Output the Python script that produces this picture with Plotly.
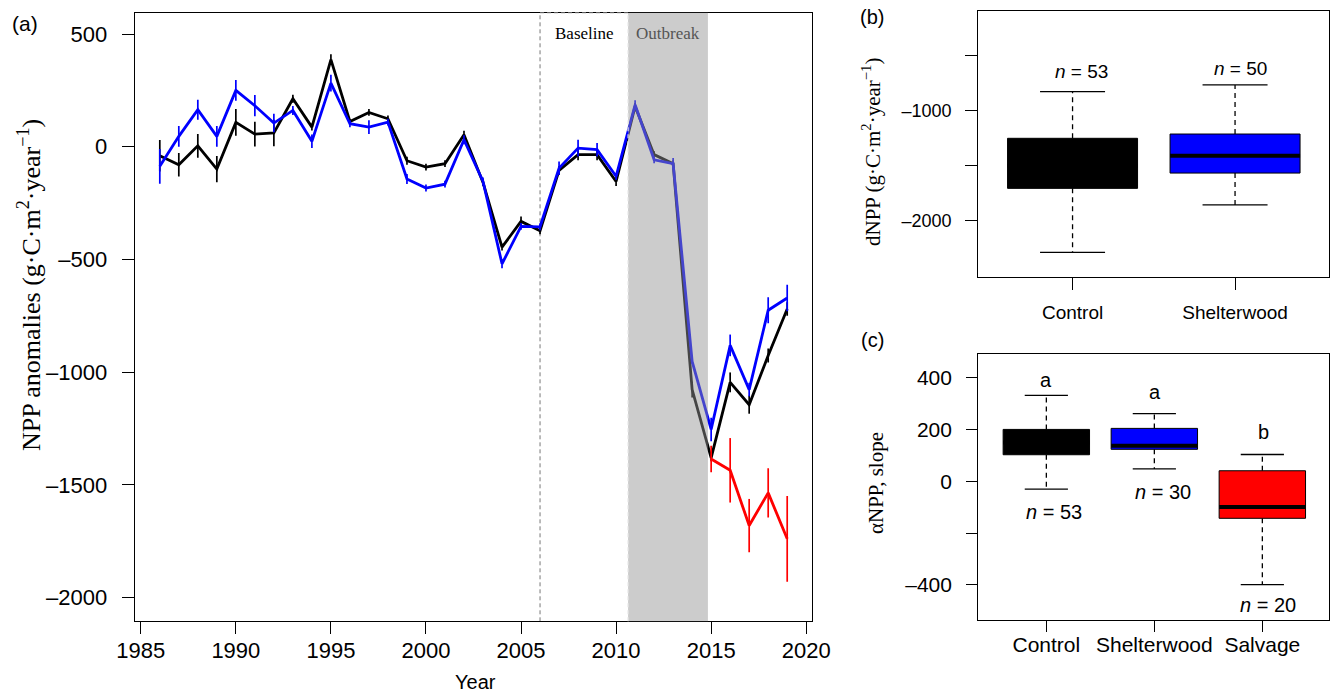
import plotly.graph_objects as go

W, H = 1333, 692

# ---------------- data ----------------
years = list(range(1986, 2020))
control_npp = [-40, -80, 4, -99, 108, 56, 61, 213, 87, 386, 112, 152, 124, -62, -90, -75, 53,
               -158, -445, -331, -373, -105, -35, -35, -154, 179, -35, -75, -1077, -1380,
               -1045, -1144, -926, -720]
control_err = [70, 52, 53, 58, 59, 55, 59, 18, 15, 24, 10, 15, 15, 18, 15, 15, 18,
               15, 15, 22, 15, 20, 25, 25, 20, 15, 15, 15, 35, 15, 44, 40, 31, 30]
shelter_npp = [-87, 46, 164, 46, 250, 182, 105, 161, 24, 282, 102, 87, 109, -143, -183, -166, 31,
               -154, -519, -353, -355, -95, -6, -13, -131, 186, -58, -75, -952, -1254,
               -881, -1077, -725, -671]
shelter_err = [77, 46, 44, 46, 46, 47, 41, 20, 30, 37, 15, 30, 15, 22, 15, 15, 20,
               18, 20, 15, 15, 30, 37, 30, 15, 20, 15, 25, 12, 52, 48, 30, 58, 59]
salvage_years = [2015, 2016, 2017, 2018, 2019]
salvage_npp = [-1385, -1435, -1680, -1535, -1739]
salvage_err = [59, 143, 118, 109, 190]

baseline_start, outbreak_start, outbreak_end = 2006, 2010.63, 2014.83

# panel (b): dNPP boxplot stats  [lower, q1, median, q3, upper]
b_groups = ["Control", "Shelterwood"]
b_stats = [[-2288, -1706, -1500, -1251, -827],
           [-1857, -1567, -1409, -1212, -766]]
b_n = [53, 50]

# panel (c): alpha NPP slope boxplot stats
c_groups = ["Control", "Shelterwood", "Salvage"]
c_stats = [[-30, 103, 150, 201, 333],
           [48, 124, 138, 205, 262],
           [-400, -143, -99, 41, 104]]
c_n = [53, 30, 20]
c_letters = ["a", "a", "b"]

a_yticks = [-2000, -1500, -1000, -500, 0, 500]
a_xticks = [1985, 1990, 1995, 2000, 2005, 2010, 2015, 2020]
b_yticks = [-2000, -1000]
b_yminor = [-1500, -500]
c_yticks = [-400, 0, 200, 400]
c_yminor = [-200]

colors = ["#000000", "#0000ff", "#ff0000"]

SANS = "Liberation Sans, Arial, sans-serif"
SERIF = "Liberation Serif, Times New Roman, serif"
MINUS = "\u2013"


def px(x, y):
    return x / W, 1 - y / H


def fmt(v):
    return str(v).replace("-", MINUS)


fig = go.Figure()

# ---------------- panel (a) ----------------
for yv, ev, xs, col in [(control_npp, control_err, years, colors[0]),
                        (shelter_npp, shelter_err, years, colors[1]),
                        (salvage_npp, salvage_err, salvage_years, colors[2])]:
    fig.add_trace(go.Scatter(
        x=xs, y=yv, mode="lines",
        line=dict(color=col, width=2.8),
        error_y=dict(type="data", array=ev, visible=True, color=col, thickness=1.7, width=0),
        xaxis="x", yaxis="y", showlegend=False))


# ---------------- box helper ----------------
def add_boxes(stats, fills, xa, ya, hw=0.4, cw=0.2):
    for i, (st, fc) in enumerate(zip(stats, fills)):
        pos = i + 1
        lo, q1, med, q3, hi = st
        fig.add_trace(go.Scatter(x=[pos, pos, None, pos, pos], y=[q3, hi, None, q1, lo],
                                 mode="lines", line=dict(color="black", width=1.3, dash="5px,4px"),
                                 xaxis=xa, yaxis=ya, showlegend=False, hoverinfo="skip"))
        fig.add_trace(go.Scatter(x=[pos - cw, pos + cw, None, pos - cw, pos + cw],
                                 y=[hi, hi, None, lo, lo],
                                 mode="lines", line=dict(color="black", width=1.3),
                                 xaxis=xa, yaxis=ya, showlegend=False, hoverinfo="skip"))
        fig.add_trace(go.Scatter(x=[pos - hw, pos + hw, pos + hw, pos - hw, pos - hw],
                                 y=[q1, q1, q3, q3, q1], mode="lines", fill="toself",
                                 fillcolor=fc, line=dict(color="black", width=1),
                                 xaxis=xa, yaxis=ya, showlegend=False, hoverinfo="skip"))
        fig.add_trace(go.Scatter(x=[pos - hw, pos + hw], y=[med, med], mode="lines",
                                 line=dict(color="black", width=4),
                                 xaxis=xa, yaxis=ya, showlegend=False, hoverinfo="skip"))


add_boxes(b_stats, colors[:2], "x2", "y2")
add_boxes(c_stats, colors, "x3", "y3")

# ---------------- axes ----------------
axcommon = dict(showline=True, mirror=True, linecolor="black", linewidth=1.3,
                showgrid=False, zeroline=False, ticks="outside", tickcolor="black",
                tickwidth=1.3, automargin=False)

xa0, ya1 = px(134.7, 621.3)
xa1, ya0 = px(812.3, 12.7)
xb0, yb0 = px(978.3, 276.7)
xb1, yb1 = px(1329.3, 10.7)
yc0 = px(0, 620)[1]
yc1 = px(0, 354.3)[1]

fig.update_layout(
    xaxis=dict(domain=[xa0, xa1], range=[1984.68, 2020.32], tickvals=a_xticks,
               ticklen=12, tickfont=dict(family=SANS, size=22, color="black"),
               ticklabelstandoff=-3, anchor="y", **axcommon),
    yaxis=dict(domain=[ya1, ya0], range=[-2104.7, 594.5], tickvals=a_yticks,
               ticktext=[fmt(v) for v in a_yticks],
               ticklen=12, tickfont=dict(family=SANS, size=22, color="black"),
               ticklabelstandoff=10, anchor="x", **axcommon),
    xaxis2=dict(domain=[xb0, xb1], range=[0.42, 2.58], tickvals=[1, 2], ticktext=b_groups,
                ticklen=12, tickfont=dict(family=SANS, size=19, color="black"),
                ticklabelstandoff=6, anchor="y2", **axcommon),
    yaxis2=dict(domain=[yb0, yb1], range=[-2509, -91], tickvals=b_yticks,
                ticktext=[fmt(v) for v in b_yticks],
                minor=dict(tickvals=b_yminor, ticks="outside", ticklen=12, tickwidth=1.3,
                           tickcolor="black", showgrid=False),
                ticklen=12, tickfont=dict(family=SANS, size=18, color="black"),
                ticklabelstandoff=10, anchor="x2", **axcommon),
    xaxis3=dict(domain=[xb0, xb1], range=[0.37, 3.62], tickvals=[1, 2, 3], ticktext=c_groups,
                ticklen=11, tickfont=dict(family=SANS, size=21, color="black"),
                ticklabelstandoff=-5, anchor="y3", **axcommon),
    yaxis3=dict(domain=[yc0, yc1], range=[-536.6, 491.7], tickvals=c_yticks,
                ticktext=[fmt(v) for v in c_yticks],
                minor=dict(tickvals=c_yminor, ticks="outside", ticklen=11, tickwidth=1.3,
                           tickcolor="black", showgrid=False),
                ticklen=11, tickfont=dict(family=SANS, size=21, color="black"),
                ticklabelstandoff=10, anchor="x3", **axcommon),
)

# ---------------- shapes for (a) ----------------
shapes = [
    dict(type="line", xref="x", yref="y domain", x0=baseline_start, x1=baseline_start, y0=0, y1=1,
         line=dict(color="#555555", width=0.8, dash="4px,3px"), layer="below"),
    dict(type="line", xref="x", yref="y domain", x0=baseline_start, x1=outbreak_start, y0=1, y1=1,
         line=dict(color="#777777", width=1, dash="4px,3px"), layer="above"),
    dict(type="rect", xref="x", yref="y domain", x0=outbreak_start, x1=outbreak_end, y0=0, y1=1,
         fillcolor="rgba(146,146,146,0.47)", line=dict(width=0), layer="above"),
    dict(type="line", xref="x", yref="y domain", x0=outbreak_start, x1=outbreak_start, y0=0, y1=1,
         line=dict(color="#e4e4e4", width=1.2, dash="4px,3px"), layer="above"),
]
fig.update_layout(shapes=shapes)

# ---------------- annotations ----------------
ann = []


def add_text(text, x, y, size, family=SANS, color="black", angle=0, **kw):
    fx, fy = px(x, y)
    ann.append(dict(text=text, x=fx, y=fy, xref="paper", yref="paper", showarrow=False,
                    font=dict(family=family, size=size, color=color), textangle=angle,
                    xanchor="center", yanchor="middle", **kw))


add_text("(a)", 25, 24, 21)
add_text("(b)", 872, 17, 20)
add_text("(c)", 872, 340, 20)
add_text("NPP anomalies (g\u00b7C\u00b7m<sup>2</sup>\u00b7year<sup>\u22121</sup>)", 30, 285, 26,
         family=SERIF, angle=-90)
add_text("Year", 475, 682, 20)
add_text("dNPP (g\u00b7C\u00b7m<sup>2</sup>\u00b7year<sup>\u22121</sup>)", 871, 152, 21,
         family=SERIF, angle=-90)
add_text("\u03b1NPP, slope", 876, 483, 21, family=SERIF, angle=-90)

ann.append(dict(text="Baseline", x=(baseline_start + outbreak_start) / 2, y=px(0, 33)[1],
                xref="x", yref="paper", showarrow=False,
                font=dict(family=SERIF, size=17, color="black"), xanchor="center", yanchor="middle"))
ann.append(dict(text="Outbreak", x=(outbreak_start + outbreak_end) / 2, y=px(0, 33)[1],
                xref="x", yref="paper", showarrow=False,
                font=dict(family=SERIF, size=17, color="#555555"), xanchor="center", yanchor="middle"))

for (x, y), n in zip([(1081, 71), (1240, 68)], b_n):
    add_text(f"<i>n</i> = {n}", x, y, 19)
for (x, y), n in zip([(1054, 512), (1163, 492), (1268, 605)], c_n):
    add_text(f"<i>n</i> = {n}", x, y, 20)
for (x, y), l in zip([(1046, 380), (1155, 392), (1263, 432)], c_letters):
    add_text(l, x, y, 20)

fig.update_layout(annotations=ann, width=W, height=H, margin=dict(l=0, r=0, t=0, b=0),
                  paper_bgcolor="white", plot_bgcolor="white", showlegend=False)

fig.write_html("out.html", config={"displayModeBar": False})
